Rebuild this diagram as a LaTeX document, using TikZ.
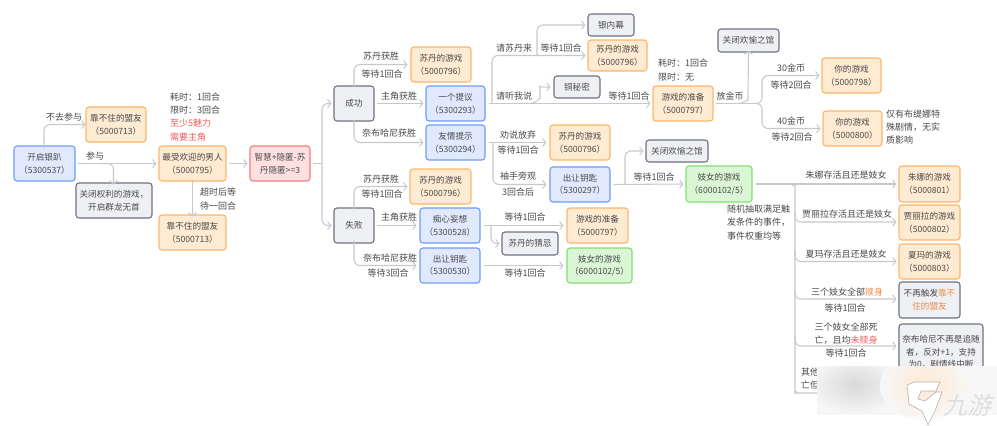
\documentclass[tikz,border=0pt]{standalone}
\usepackage{fontspec}
\setmainfont{Noto Sans CJK SC}
\usetikzlibrary{arrows.meta,calc}
\definecolor{txt}{HTML}{4A4A4A}
\definecolor{conn}{HTML}{C6C8CE}
\definecolor{bluef}{HTML}{E0E9FD}\definecolor{blued}{HTML}{6F9CF6}
\definecolor{orgf}{HTML}{FFEAD2}\definecolor{orgd}{HTML}{FDB768}
\definecolor{redf}{HTML}{FFE0E0}\definecolor{redd}{HTML}{F57C7C}
\definecolor{grnf}{HTML}{DAF6D4}\definecolor{grnd}{HTML}{82DE74}
\definecolor{gryf}{HTML}{EFF0F3}\definecolor{gryd}{HTML}{6F7280}
\definecolor{redt}{HTML}{F45B5B}\definecolor{orgt}{HTML}{F08A45}
\tikzset{
 box/.style={draw,line width=1.1pt,rounded corners=3pt,font=\fontsize{8.6}{12.6}\selectfont,text=txt,align=center,inner sep=0pt},
 bluebox/.style={box,fill=bluef,draw=blued},
 orgbox/.style={box,fill=orgf,draw=orgd},
 redbox/.style={box,fill=redf,draw=redd},
 grnbox/.style={box,fill=grnf,draw=grnd},
 grybox/.style={box,fill=gryf,draw=gryd},
 lab/.style={font=\fontsize{9}{13}\selectfont,text=txt,inner sep=0pt,align=center},
 lleft/.style={font=\fontsize{9}{13.2}\selectfont,text=txt,inner sep=0pt,align=left,anchor=west},
 cn/.style={draw=conn,line width=1.05pt,rounded corners=6pt,-{Straight Barb[length=3.2pt,width=8pt,line width=1pt]}},
 cnp/.style={draw=conn,line width=1.05pt,rounded corners=6pt},
}
% x0 y0 x1 y1
\newcommand{\bx}[7]{\node[#2,minimum width=#5pt-#3pt,minimum height=#6pt-#4pt,text width=#5pt-#3pt-2pt] (#1) at ({(#3+#5)/2},{(#4+#6)/2}) {#7};}
\begin{document}
\begin{tikzpicture}[x=1pt,y=-1pt]
\useasboundingbox (0,0) rectangle (997,426);
\fill[white] (0,0) rectangle (997,426);
% nodes
\bx{kai}{bluebox}{14}{146}{75}{181}{开启银趴\\（5300537）}
\bx{kbz}{orgbox}{86}{107}{146}{142}{靠不住的盟友\\（5000713）}
\bx{zsh}{orgbox}{159}{146}{226}{181}{最受欢迎的男人\\（5000795）}
\bx{zhi}{redbox}{250}{146}{310}{181}{智慧+隐匿-苏\\丹隐匿>=3}
\bx{gb}{grybox}{76}{183}{152}{218}{关闭权利的游戏，\\开启群龙无首}
\bx{kbzb}{orgbox}{159}{215}{226}{250}{靠不住的盟友\\（5000713）}
\bx{cg}{grybox}{334}{86}{374}{121}{成功}
\bx{sb}{grybox}{334}{208}{374}{243}{失败}
\bx{sd1}{orgbox}{411}{47}{471}{82}{苏丹的游戏\\（5000796）}
\bx{yg}{bluebox}{426}{86}{485}{121}{一个提议\\（5300293）}
\bx{yq}{bluebox}{426}{125}{485}{160}{友情提示\\（5300294）}
\bx{ynm}{grybox}{588}{14}{634}{36}{银内幕}
\bx{sd2}{orgbox}{588}{40}{647}{71}{苏丹的游戏\\（5000796）}
\bx{tmm}{grybox}{554}{76}{600}{98}{铜秘密}
\bx{yxz}{orgbox}{653}{86}{713}{121}{游戏的准备\\（5000797）}
\bx{sd3}{orgbox}{550}{125}{610}{160}{苏丹的游戏\\（5000796）}
\bx{cr1}{bluebox}{550}{167}{610}{202}{出让钥匙\\（5300297）}
\bx{sd4}{orgbox}{410}{169}{471}{204}{苏丹的游戏\\（5000796）}
\bx{cx}{bluebox}{420}{208}{480}{243}{痴心妄想\\（5300528）}
\bx{cr2}{bluebox}{420}{248}{480}{283}{出让钥匙\\（5300530）}
\bx{yxz2}{orgbox}{567}{208}{628}{243}{游戏的准备\\（5000797）}
\bx{scj}{grybox}{502}{232}{558}{255}{苏丹的猜忌}
\bx{jn2}{grnbox}{567}{248}{632}{283}{妓女的游戏\\（6000102/5）}
\bx{gh2}{grybox}{646}{140}{708}{162}{关闭欢愉之馆}
\bx{gh1}{grybox}{718}{29}{779}{52}{关闭欢愉之馆}
\bx{ny1}{orgbox}{822}{58}{881}{93}{你的游戏\\（5000798）}
\bx{ny2}{orgbox}{823}{111}{882}{146}{你的游戏\\（5000800）}
\bx{jn1}{grnbox}{686}{166}{752}{202}{妓女的游戏\\（6000102/5）}
\bx{zn}{orgbox}{899}{166}{960}{202}{朱娜的游戏\\（5000801）}
\bx{jl}{orgbox}{899}{205}{960}{240}{贾丽拉的游戏\\（5000802）}
\bx{xm}{orgbox}{899}{244}{960}{279}{夏玛的游戏\\（5000803）}
\bx{bz}{grybox}{899}{282}{960}{318}{不再触发\textcolor{orgt}{靠不\\住的盟友}}
\bx{nb}{grybox}{899}{324}{983}{380}{奈布哈尼不再是追随\\者，反对+1，支持\\为0，剧情线中断}
% connectors
\draw[cn] ([xshift=-0.5pt,yshift=-3pt]kai.north) |- (kbz.west);
\draw[cn] ([xshift=2pt]kai.east) -- ([xshift=-2pt]zsh.west);
\draw[cn] (102,163.5) -| ([xshift=-.5pt,yshift=-2pt]gb.north);
\draw[cn] ([xshift=2pt]zsh.east) -- ([xshift=-2pt]zhi.west);
\draw[cn] ([yshift=2pt]zsh.south) -- ([yshift=-2pt]kbzb.north);
\coordinate (f0) at (322,163.5);
\draw[cnp] ([xshift=2pt]zhi.east) -- (f0);
\draw[cn] (f0) |- ([xshift=-2pt]cg.west);
\draw[cn] (f0) |- ([xshift=-2pt]sb.west);
% success
\draw[cn] ([yshift=-2pt]cg.north) |- ([xshift=-3pt]sd1.west);
\draw[cn] ([xshift=2pt]cg.east) -- ([xshift=-2pt]yg.west);
\draw[cn] ([yshift=2pt]cg.south) |- ([xshift=-2pt]yq.west);
\draw[cn] ([xshift=3pt]yg.east) -- ([xshift=-2pt]yxz.west);
\coordinate (f1) at (492,103.5);
\draw[cn] (f1) |- ([xshift=-2pt]sd2.west);
\draw[cn] (537,56) |- ([xshift=-2pt]ynm.west);
\draw[cnp,-{Straight Barb[length=3.2pt,width=8pt,line width=1pt]}] (530,103.5) to[out=0,in=-90] (540,92) to[out=90,in=180] ([xshift=-3pt]tmm.west);
\draw[cn] ([xshift=3pt]yq.east) -- ([xshift=-3pt]sd3.west);
\draw[cn] (493,142.5) |- ([xshift=-3pt]cr1.west);
\draw[cn] ([xshift=3pt]cr1.east) -- ([xshift=-2pt]jn1.west);
\draw[cn] (625,184) |- ([xshift=-2pt]gh2.west);
% failure
\draw[cn] ([yshift=-2pt]sb.north) |- ([xshift=-2pt]sd4.west);
\draw[cn] ([xshift=2pt]sb.east) -- ([xshift=-3pt]cx.west);
\draw[cn] ([yshift=3pt]sb.south) |- ([xshift=-3pt]cr2.west);
\draw[cn] ([xshift=3pt]cx.east) -- ([xshift=-3pt]yxz2.west);
\draw[cn] (491,225.5) |- ([xshift=-2pt]scj.west);
\draw[cn] ([xshift=3pt]cr2.east) -- ([xshift=-3pt]jn2.west);
% right top
\draw[cnp,-{Straight Barb[length=3.2pt,width=8pt,line width=1pt]}] (738,103.5) to[out=0,in=-90] (748,94) -- ([yshift=2pt]gh1.south);
\coordinate (f2) at (757,103.5);
\draw[cnp] ([xshift=2pt]yxz.east) -- (f2);
\draw[cn] (f2) to[out=0,in=-90] (762,92) |- ([xshift=-2pt]ny1.west);
\draw[cn] (f2) to[out=0,in=90] (762,115) |- ([xshift=-2pt]ny2.west);
% right fan
\draw[cn] ([xshift=3pt]jn1.east) -- ([xshift=-2pt]zn.west);
\coordinate (f3) at (795,184);
\draw[cnp] (788,184) to[out=0,in=90] (795,191) -- (795,386) to[out=-90,in=180] (802,393) -- (880,393);
\draw[cn] (795,212) |- ([xshift=-2pt]jl.west |- 0,222);
\draw[cn] (795,250) |- ([xshift=-2pt]xm.west);
\draw[cn] (795,290) |- ([xshift=-2pt]bz.west |- 0,299);
\draw[cn] (795,336) |- ([xshift=-2pt]nb.west |- 0,346);
% labels
\node[lab] (t1) at (64,117) {不去参与};
\node[lab] (t2) at (95,156) {参与};
\node[lleft] (t3) at (170,117) {耗时：1回合\\限时：3回合\\\textcolor{redt}{至少5魅力}\\\textcolor{redt}{需要主角}};
\node[lleft] (t4) at (200,199) {超时后等\\待一回合};
\node[lab] (t5) at (381,56) {苏丹获胜};
\node[lab] (t6) at (382,74) {等待1回合};
\node[lab] (t7) at (399,96) {主角获胜};
\node[lab] (t8) at (389,133) {奈布哈尼获胜};
\node[lab] (t9) at (514,48) {请苏丹来};
\node[lab] (t10) at (561,48) {等待1回合};
\node[lab] (t11) at (514,96) {请听我说};
\node[lab] (t12) at (629,96) {等待1回合};
\node[lab] (t13) at (518,135) {劝说放弃};
\node[lab] (t14) at (518,150) {等待1回合};
\node[lab] (t15) at (518,176) {袖手旁观};
\node[lab] (t16) at (518,192) {3回合后};
\node[lab] (t17) at (381,179) {苏丹获胜};
\node[lab] (t18) at (382,194) {等待1回合};
\node[lab] (t19) at (399,217) {主角获胜};
\node[lab] (t20) at (390,258) {奈布哈尼获胜};
\node[lab] (t21) at (388,273) {等待3回合};
\node[lab] (t22) at (525,217) {等待1回合};
\node[lab] (t23) at (525,273) {等待1回合};
\node[lab] (t24) at (654,177) {等待1回合};
\node[lleft] (t25) at (658,70) {耗时：1回合\\限时：无};
\node[lab] (t26) at (730,96) {放金币};
\node[lab] (t27) at (791,68) {30金币};
\node[lab] (t28) at (791,85) {等待2回合};
\node[lab] (t29) at (791,121) {40金币};
\node[lab] (t30) at (792,137) {等待2回合};
\node[lleft] (t31) at (886,127) {仅有布缇娜特\\殊剧情，无实\\质影响};
\node[lab] (t32) at (846,175) {朱娜存活且还是妓女};
\node[lab] (t33) at (847,214) {贾丽拉存活且还是妓女};
\node[lab] (t34) at (846,254) {夏玛存活且还是妓女};
\node[lleft] (t35) at (727,222.5) {随机抽取满足触\\发条件的事件，\\事件权重均等};
\node[lab] (t36) at (847,292) {三个妓女全部\textcolor{orgt}{赎身}};
\node[lab] (t37) at (845,308) {等待1回合};
\node[lab] (t38) at (846,340) {三个妓女全部死\\亡，且均\textcolor{redt}{未赎身}\\等待1回合};
\node[lleft] (t39) at (801,378.5) {其他\\亡但};
% watermark
\fill[black!3] (817,366) rectangle (997,426);
\begin{scope}
\clip (817,366) rectangle (997,426);
\fill[white] (817,415) rectangle (997,426);
\shade[inner color=black!15,outer color=black!3] (855,385) ellipse (48 and 30);
\shade[inner color=orange!18!white,outer color=black!3] (925,385) ellipse (45 and 36);
\fill[white,opacity=.5] (817,416) rectangle (997,426);
\end{scope}
\fill[white,draw=black!30,line width=.6pt,line join=round] (907,385) -- (914,382) -- (940,382) -- (936,391) -- (921,391) -- (918,399) -- (925,401) -- (936,392) -- (942,392) -- (935,411) -- (928,425) -- (922,411) -- (909,404) -- cycle;
\node[font=\fontsize{24}{24}\selectfont,text=white,xslant=0.25,inner sep=0pt] (wm) at (970,405) {九游};
\node[font=\fontsize{24}{24}\selectfont,text=black!25,xslant=0.25,inner sep=0pt,opacity=.5] (wm2) at (970,405) {九游};
\end{tikzpicture}
\end{document}
